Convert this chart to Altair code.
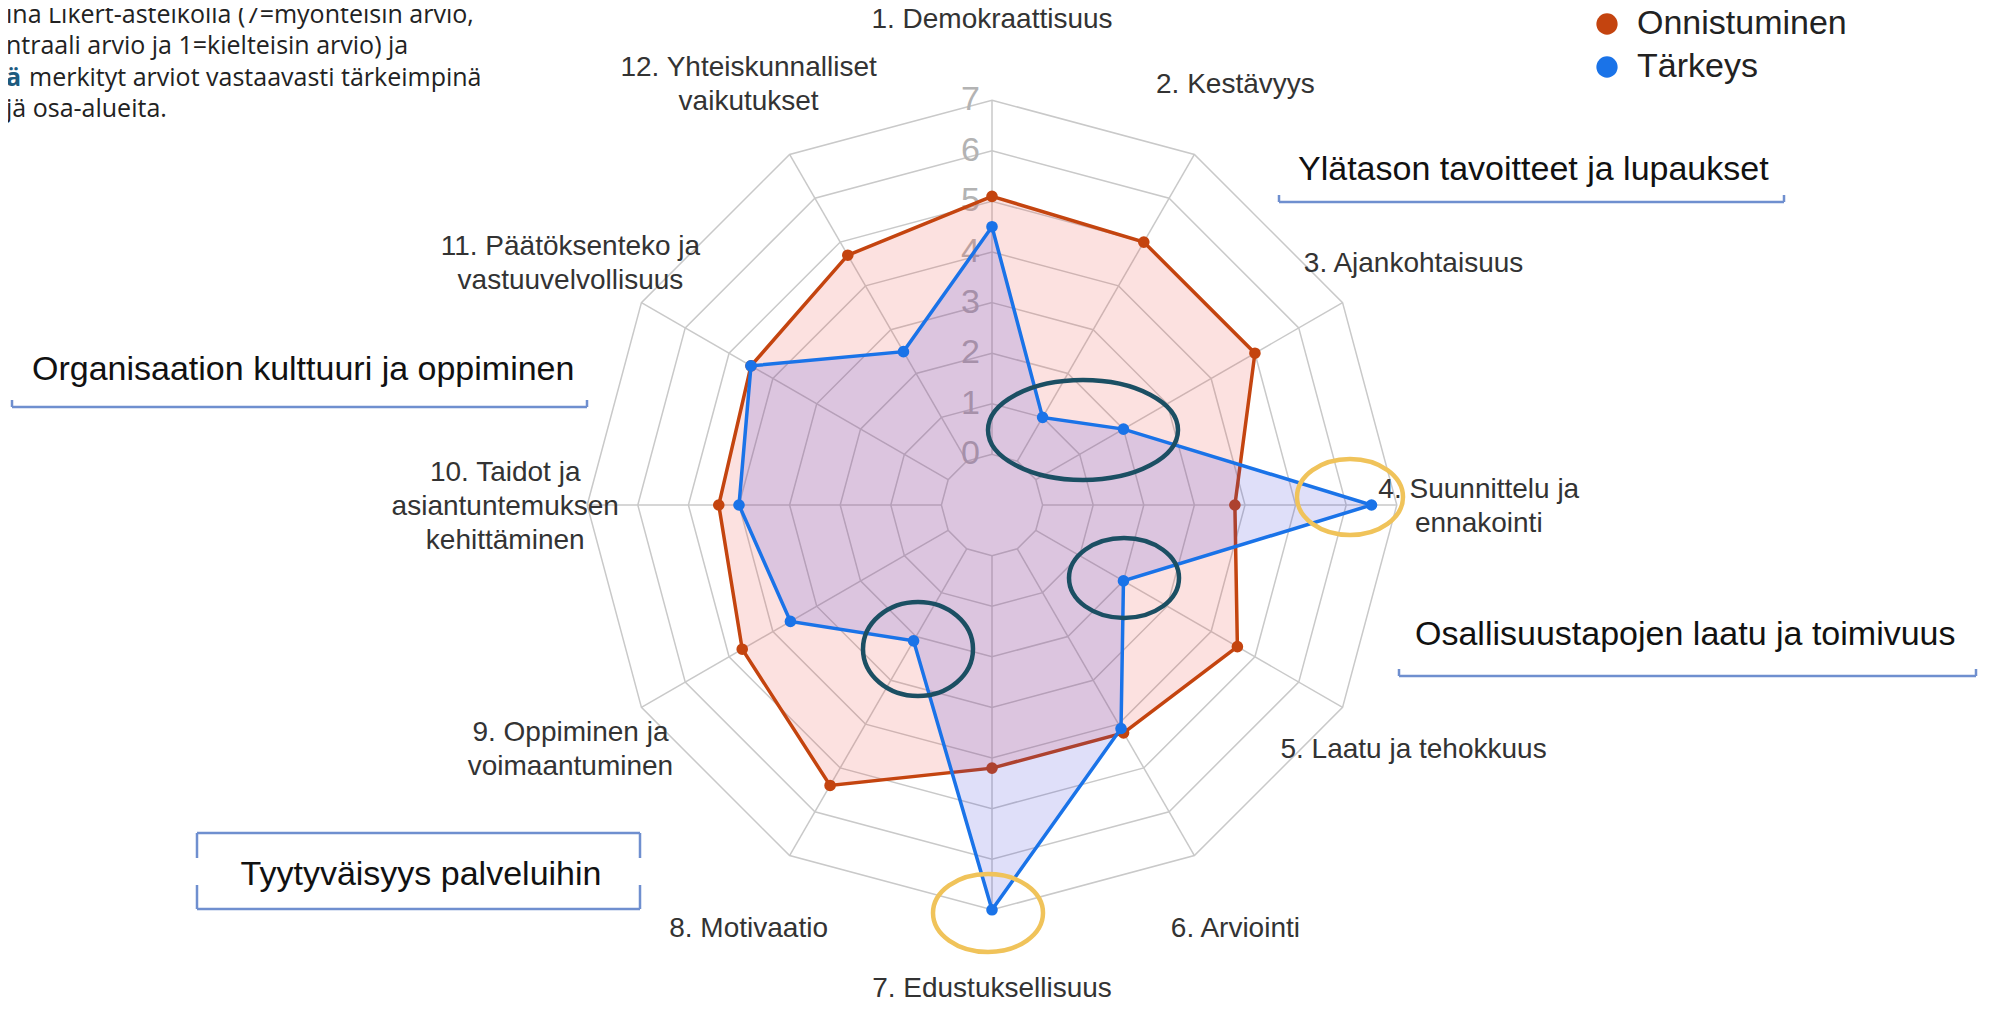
import altair as alt
import pandas as pd

# ---------------- data ----------------
categories = [
    "1. Demokraattisuus",
    "2. Kestävyys",
    "3. Ajankohtaisuus",
    "4. Suunnittelu ja\nennakointi",
    "5. Laatu ja tehokkuus",
    "6. Arviointi",
    "7. Edustuksellisuus",
    "8. Motivaatio",
    "9. Oppiminen ja\nvoimaantuminen",
    "10. Taidot ja\nasiantuntemuksen\nkehittäminen",
    "11. Päätöksenteko ja\nvastuuvelvollisuus",
    "12. Yhteiskunnalliset\nvaikutukset",
]
series_names = ["Onnistuminen", "Tärkeys"]
onnistuminen = [5.1, 5.0, 5.0, 3.8, 4.6, 4.2, 4.2, 5.4, 4.7, 4.4, 4.5, 4.7]
tarkeys = [4.5, 1.0, 2.0, 6.5, 2.0, 4.1, 7.0, 2.1, 3.6, 4.0, 4.5, 2.5]
ticks = [0, 1, 2, 3, 4, 5, 6, 7]
label_level = 8.62  # radial position of category labels (in value units)

section_labels = [
    "Ylätason tavoitteet ja lupaukset",
    "Organisaation kulttuuri ja oppiminen",
    "Osallisuustapojen laatu ja toimivuus",
    "Tyytyväisyys palveluihin",
]
note_lines = [
    "ina Likert-asteikolla (7=myönteisin arvio,",
    "ntraali arvio ja 1=kielteisin arvio) ja",
    "merkityt arviot vastaavasti tärkeimpinä",
    "jä osa-alueita.",
]
note_highlight = "ä"

# ---------------- layout ----------------
W, H = 1975, 993
PX = 50.6            # pixels per value unit
CX, CY = 984, 497    # centre of radar inside chart
FONT = "Liberation Sans"
ORANGE = "#c4440f"
BLUE = "#1a73e8"
LINE_H = 34
BOTTOM_LABEL_LIFT = 5  # px, keeps the bottom label inside the page

xs = alt.Scale(domain=[-CX / PX, (W - CX) / PX], nice=False, zero=False)
ys = alt.Scale(domain=[-(H - CY) / PX, CY / PX], nice=False, zero=False)
X = alt.X("px:Q", scale=xs, axis=None)
Y = alt.Y("py:Q", scale=ys, axis=None)


def polar(ch, val="value"):
    return ch.transform_calculate(
        px=f"(datum.{val} + 1) * sin(datum.idx * PI / 6)",
        py=f"(datum.{val} + 1) * cos(datum.idx * PI / 6)",
    )


n = len(categories)
rows = []
for s, vals in zip(series_names, [onnistuminen, tarkeys]):
    for i, v in enumerate(vals):
        rows.append({"series": s, "idx": i, "value": v})
df = pd.DataFrame(rows)

ring_df = pd.DataFrame([{"ring": t, "idx": i, "value": t} for t in ticks for i in range(n)])
spoke_df = pd.DataFrame([{"idx": i, "v0": ticks[0], "v1": ticks[-1]} for i in range(n)])
tick_df = pd.DataFrame({"value": ticks, "idx": [0] * len(ticks), "label": [str(t) for t in ticks]})
label_df = pd.DataFrame({
    "idx": list(range(n)),
    "value": [label_level] * n,
    "cat": categories,
    "nl": [c.count("\n") for c in categories],
})

# grid
rings = polar(alt.Chart(ring_df)).mark_line(
    interpolate="linear-closed", stroke="#c9c9c9", strokeWidth=1.5
).encode(x=X, y=Y, detail="ring:N", order="idx:Q")

spokes = alt.Chart(spoke_df).transform_calculate(
    px="(datum.v0 + 1) * sin(datum.idx * PI / 6)",
    py="(datum.v0 + 1) * cos(datum.idx * PI / 6)",
    px2="(datum.v1 + 1) * sin(datum.idx * PI / 6)",
    py2="(datum.v1 + 1) * cos(datum.idx * PI / 6)",
).mark_rule(stroke="#c9c9c9", strokeWidth=1.5).encode(x=X, y=Y, x2="px2:Q", y2="py2:Q")

tick_text = polar(alt.Chart(tick_df)).mark_text(
    align="right", baseline="middle", dx=-12, fontSize=34, font=FONT, color="#b3b3b3"
).encode(x=X, y=Y, text="label:N")

legend = alt.Legend(
    orient="none", legendX=1582, legendY=-1, title=None,
    labelFontSize=34, labelFont=FONT, labelColor="#222222",
    symbolSize=452, symbolType="circle", labelOffset=13, rowPadding=9,
    labelLimit=500, padding=0, symbolStrokeWidth=0,
)
color = alt.Color("series:N", scale=alt.Scale(domain=series_names, range=[ORANGE, BLUE]), legend=legend)


def series_layers(name, line_col, fill_col, fill_op):
    base = polar(alt.Chart(df)).transform_filter(alt.datum.series == name)
    poly = base.mark_line(interpolate="linear-closed", strokeWidth=3.5).encode(
        x=X, y=Y, order="idx:Q",
        stroke=alt.value(line_col), fill=alt.value(fill_col), fillOpacity=alt.value(fill_op),
    )
    pts = base.mark_circle(size=135, opacity=1).encode(x=X, y=Y, color=color)
    return poly, pts


o_poly, o_pts = series_layers("Onnistuminen", ORANGE, "#f0504a", 0.17)
t_poly, t_pts = series_layers("Tärkeys", BLUE, "#3b3bdb", 0.16)

cat_text = alt.Chart(label_df).transform_calculate(
    px="(datum.value + 1) * sin(datum.idx * PI / 6)",
    py=(f"(datum.value + 1) * cos(datum.idx * PI / 6) + datum.nl * {LINE_H / 2 / PX}"
        f" + (datum.idx == 6 ? {BOTTOM_LABEL_LIFT / PX} : 0)"),
).mark_text(
    align="center", baseline="middle", fontSize=28, font=FONT, color="#333333",
    lineBreak="\n", lineHeight=LINE_H, dy=2,
).encode(x=X, y=Y, text="cat:N")

# ---------------- annotations (pixel positions) ----------------
PXS = alt.Scale(domain=[0, W], range=[0, W])
PYS = alt.Scale(domain=[0, H], range=[0, H])


def ellipse(cx, cy, rx, ry, col):
    k = ry / rx
    path = f"M -1 0 A 1 {k:.4f} 0 1 1 1 0 A 1 {k:.4f} 0 1 1 -1 0 Z"
    return alt.Chart(pd.DataFrame({"a": [0]})).mark_point(
        shape=path, size=(2 * rx) ** 2, filled=False, strokeWidth=4.5, color=col, opacity=1
    ).encode(x=alt.value(cx), y=alt.value(cy))


TEAL = "#1b4f63"
GOLD = "#f0c35a"
ellipses = [
    ellipse(1075, 422, 95, 50, TEAL),
    ellipse(1116, 570, 55, 40, TEAL),
    ellipse(910, 641, 55, 47, TEAL),
    ellipse(1342, 489, 53, 38, GOLD),
    ellipse(980, 905, 55, 39, GOLD),
]

bracket_segs = pd.DataFrame([
    # Ylätason
    (1271, 187, 1271, 194), (1271, 194, 1776, 194), (1776, 194, 1776, 187),
    # Organisaation
    (4, 392, 4, 399), (4, 399, 579, 399), (579, 399, 579, 392),
    # Osallisuustapojen
    (1391, 661, 1391, 668), (1391, 668, 1968, 668), (1968, 668, 1968, 661),
    # Tyytyväisyys box
    (189, 850, 189, 825), (189, 825, 632, 825), (632, 825, 632, 850),
    (189, 877, 189, 901), (189, 901, 632, 901), (632, 901, 632, 877),
], columns=["x1", "y1", "x2", "y2"])
brackets = alt.Chart(bracket_segs).mark_rule(stroke="#6f8fcf", strokeWidth=2.5).encode(
    x=alt.X("x1:Q", scale=PXS, axis=None), y=alt.Y("y1:Q", scale=PYS, axis=None),
    x2="x2:Q", y2="y2:Q",
)

sec_df = pd.DataFrame({
    "t": section_labels[:3], "x": [1290, 24, 1407], "y": [172, 372, 637],
})
sec_left = alt.Chart(sec_df).mark_text(
    align="left", baseline="alphabetic", fontSize=34, font=FONT, color="#111111"
).encode(x=alt.X("x:Q", scale=PXS, axis=None), y=alt.Y("y:Q", scale=PYS, axis=None), text="t:N")
sec_center = alt.Chart(pd.DataFrame({"t": [section_labels[3]]})).mark_text(
    align="center", baseline="alphabetic", fontSize=34, font=FONT, color="#111111"
).encode(x=alt.value(413), y=alt.value(877), text="t:N")

note_df = pd.DataFrame({"t": note_lines, "y": [15, 46, 78, 109], "x": [-2, -2, 21, -2]})
notes = alt.Chart(note_df).mark_text(
    align="left", baseline="alphabetic", fontSize=25, font="Open Sans", color="#222222"
).encode(x=alt.X("x:Q", scale=PXS, axis=None), y=alt.Y("y:Q", scale=PYS, axis=None), text="t:N")
note_a = alt.Chart(pd.DataFrame({"t": [note_highlight]})).mark_text(
    align="left", baseline="alphabetic", fontSize=25, font="Open Sans", color="#1d5b7f", fontWeight="bold"
).encode(x=alt.value(-2), y=alt.value(78), text="t:N")

radar = alt.layer(
    rings, spokes, tick_text, o_poly, o_pts, t_poly, t_pts, cat_text,
).resolve_scale(x="shared", y="shared")

annot = alt.layer(brackets, sec_left, notes).resolve_scale(x="shared", y="shared")

chart = alt.layer(
    radar, annot, sec_center, note_a, *ellipses
).resolve_scale(x="independent", y="independent").properties(
    width=W, height=H, autosize=alt.AutoSizeParams(type="none"), padding=0,
    background="white",
).configure_view(stroke=None)

chart.save("out.html", embed_options={"renderer": "svg", "actions": False})
